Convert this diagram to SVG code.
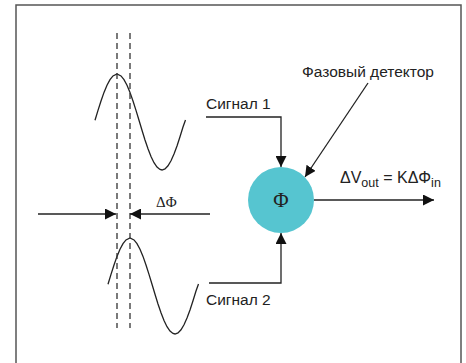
<svg xmlns="http://www.w3.org/2000/svg" width="466" height="363" viewBox="0 0 466 363">
<style>
.ln{fill:none;stroke:#222;stroke-width:1.3}
.dash{fill:none;stroke:#333;stroke-width:1.3;stroke-dasharray:6 4}
.sans{font-family:"Liberation Sans",Arial,sans-serif;fill:#222}
.serif{font-family:"Liberation Serif","Times New Roman",serif;fill:#222}
</style>
<defs>
<marker id="ah" markerUnits="userSpaceOnUse" markerWidth="11" markerHeight="11" viewBox="0 0 10 10" refX="10" refY="5" orient="auto">
<path d="M0,0 L10,5 L0,10 Z" fill="#111"/>
</marker>
<path id="wave" d="M95,120.3 L98,110.4 L101,101 L104,92.4 L107,85.2 L110,79.6 L113,75.9 L117,74 L121,75.9 L124,79.6 L127,85.2 L130,92.4 L133,101 L136,110.4 L139,120.3 L142,130.3 L145,140 L148,148.8 L151,156.5 L154,162.7 L157,167.1 L160,169.5 L162,170 L165,168.9 L168,165.8 L171,160.8 L174,154.1 L177,146 L180,136.8 L183,127 L185.5,120"/>
</defs>
<rect width="466" height="363" fill="#fff"/>
<path d="M16,363 L16,5 L461,5 L461,363" fill="none" stroke="#555" stroke-width="1.5"/>
<g id="waves">
<use href="#wave" class="ln"/>
<use href="#wave" class="ln" transform="translate(13,164)"/>
<line x1="117" y1="33" x2="117" y2="328" class="dash"/>
<line x1="130" y1="33" x2="130" y2="328" class="dash"/>
</g>
<g id="connectors">
<line x1="38" y1="214" x2="116" y2="214" class="ln" marker-end="url(#ah)"/>
<line x1="210" y1="214" x2="130" y2="214" class="ln" marker-end="url(#ah)"/>
<polyline points="206,117 281,117 281,167" class="ln" marker-end="url(#ah)"/>
<polyline points="209,283 281,283 281,233" class="ln" marker-end="url(#ah)"/>
<line x1="314" y1="200" x2="434" y2="200" class="ln" marker-end="url(#ah)"/>
<line x1="368" y1="83" x2="305" y2="177" class="ln" marker-end="url(#ah)"/>
</g>
<g id="detector">
<circle cx="281" cy="200" r="33" fill="#56c5d0"/>
<text x="281" y="207" class="serif" font-size="21" text-anchor="middle">Φ</text>
</g>
<g id="labels">
<text x="156" y="207" class="serif" font-size="15">ΔΦ</text>
<text x="302" y="77" class="sans" font-size="15.5">Фазовый детектор</text>
<text x="206" y="109" class="sans" font-size="15.5">Сигнал 1</text>
<text x="206" y="305" class="sans" font-size="15.5">Сигнал 2</text>
<text x="340" y="183" class="sans" font-size="16">ΔV<tspan font-size="12.5" dy="4">out</tspan><tspan dy="-4"> = KΔΦ</tspan><tspan font-size="12.5" dy="4">in</tspan></text>
</g>
</svg>
